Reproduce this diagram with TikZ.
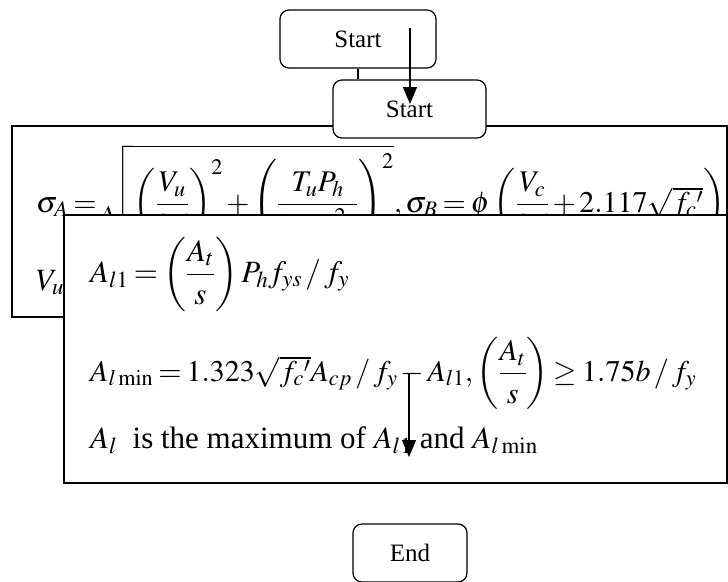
\documentclass[tikz,border=0pt]{standalone}
\usepackage{amsmath}
\usepackage{mathptmx}
\usepackage[no-math]{fontspec}
\setmainfont{Liberation Serif}
\usetikzlibrary{positioning,arrows.meta}
\newcommand{\tightmath}{\thickmuskip=3mu plus 1mu\medmuskip=2mu}

\begin{document}
\begin{tikzpicture}[x=1pt,y=-1pt,font=\fontsize{25}{30}\selectfont]
  \tikzset{
    roundbox/.style={draw,line width=1.2pt,rounded corners=9pt,fill=white,inner sep=0pt},
    plainbox/.style={draw,line width=1.2pt,fill=white,inner sep=0pt},
    eqline/.style={anchor=base west,inner sep=0pt,font=\fontsize{31}{37}\selectfont\tightmath},
    smalleq/.style={eqline,font=\fontsize{30}{36}\selectfont\tightmath},
    flow/.style={-{Triangle[length=17pt,width=14pt]},line width=1.2pt}
  }
  \def\tall{\vphantom{A^{X}_{X}}}
  \useasboundingbox (0,0) rectangle (728,581);
  % shear/torsion check, drawn first so the steel box covers it
  \node[plainbox,minimum width=715pt,minimum height=191pt] (check) at (369.5,221.5) {};
  \node[smalleq] (sigma) at (36,212)
    {$\sigma_A=\sqrt{\left(\dfrac{V_u\tall}{bd\tall}\right)^2+\left(\dfrac{T_uP_h\tall}{1.7A_{oh}^2\tall}\right)^2},
      \sigma_B=\phi\left(\dfrac{V_c\tall}{bd\tall}+2.117\sqrt{f_c{}'}\right)$};
  \node[eqline] (vu) at (36,290) {$V_u$};
  % terminals
  \node[roundbox,minimum width=156pt,minimum height=58pt] (start) at (358,39) {Start};
  \node[roundbox,minimum width=153pt,minimum height=58pt] (start2) at (409.5,109) {Start};
  \draw[line width=1.2pt] (start.south) -- (start.south |- start2.north);
  % longitudinal steel
  \node[plainbox,minimum width=663pt,minimum height=268pt] (steel) at (395.5,349) {};
  \node[eqline] (al1) at (90,282)
    {$A_{l1}=\left(\dfrac{A_t\tall}{s\tall}\right)P_hf_{ys}\,/\,f_y$};
  \node[smalleq] (almin) at (90,381)
    {$A_{l\min}=1.323\sqrt{f_c{}'}A_{cp}\,/\,f_y-A_{l1},\left(\dfrac{A_t\tall}{s\tall}\right)\geq1.75b\,/\,f_y$};
  \node[eqline] (al) at (90,448)
    {$A_l$\ \ is the maximum of $A_{l1}$ and $A_{l\min}$};
  \node[roundbox,minimum width=114pt,minimum height=58pt] (end) at (410,553) {End};
  % flow arrows
  \coordinate (s1) at (410,28);
  \coordinate (t1) at (410,104);
  \coordinate (s2) at (409,373);
  \coordinate (t2) at (409,457);
  \draw[flow] (s1) -- (t1);
  \draw[flow] (s2) -- (t2);
\end{tikzpicture}
\end{document}
